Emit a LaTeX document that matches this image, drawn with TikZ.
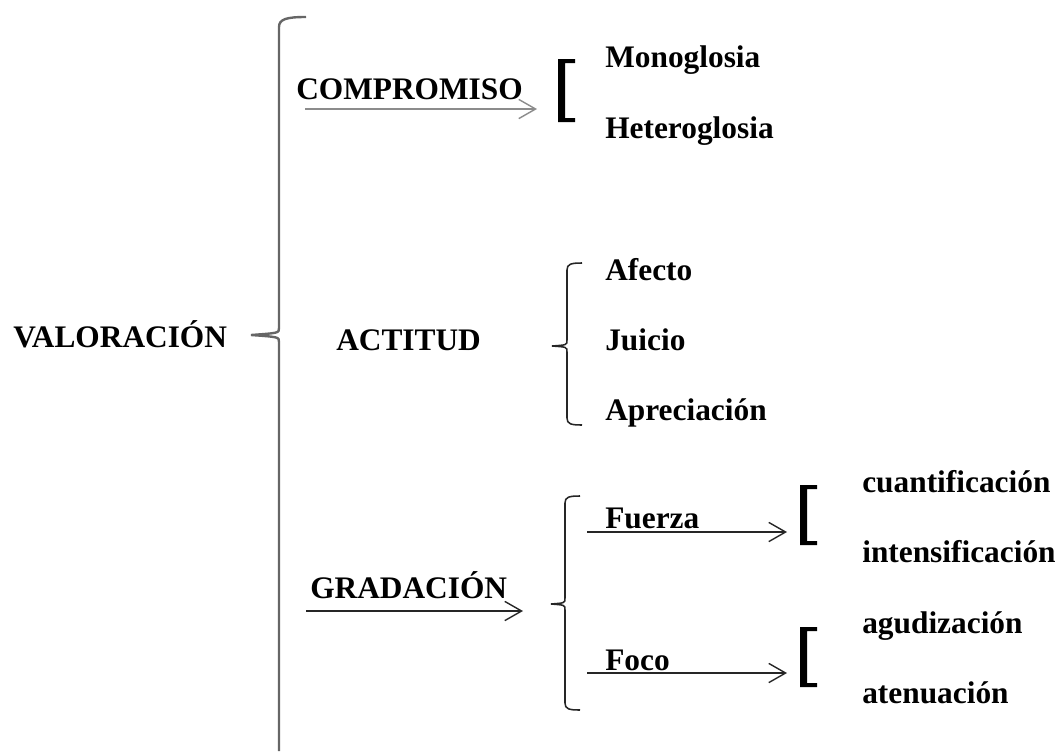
\documentclass[tikz,border=0pt]{standalone}
\usepackage{fontspec}
\setmainfont{LiberationSerif}[Extension=.ttf, UprightFont=*-Regular, BoldFont=*-Bold, ItalicFont=*-Italic, BoldItalicFont=*-BoldItalic]
\usepackage{tikz}
\usetikzlibrary{arrows.meta}
\tikzset{lbl/.style={inner sep=0pt, anchor=base west, font=\bfseries\fontsize{22.3}{26}\selectfont}}
\tikzset{llave/.style={draw=black!85, line width=1.1pt}}
\tikzset{llavemayor/.style={draw=black!60, line width=1.7pt}}
\tikzset{flecha/.style={draw=black!85, line width=1pt, -{Straight Barb[length=4.2mm,width=4.8mm,line width=1pt]}}}
\tikzset{corchete/.style={fill=black}}

\begin{document}
\begin{tikzpicture}[x=0.025cm,y=-0.025cm]
\useasboundingbox (0,0) rectangle (1059,751);
% textos
\node[lbl] (val) at (13,347) {VALORACIÓN};
\node[lbl] (comp) at (296,99) {COMPROMISO};
\node[lbl] (act) at (336,350) {ACTITUD};
\node[lbl] (grad) at (310,598) {GRADACIÓN};
\node[lbl] (mono) at (605,67) {Monoglosia};
\node[lbl] (hete) at (605,138) {Heteroglosia};
\node[lbl] (afe) at (605,280) {Afecto};
\node[lbl] (jui) at (605,350) {Juicio};
\node[lbl] (apr) at (605,420) {Apreciación};
\node[lbl] (fue) at (605,528) {Fuerza};
\node[lbl] (foc) at (605,670) {Foco};
\node[lbl] (cua) at (862,492) {cuantificación};
\node[lbl] (int) at (862,562) {intensificación};
\node[lbl] (agu) at (862,633) {agudización};
\node[lbl] (ate) at (862,703) {atenuación};
% llaves
\draw[llavemayor] (306,17) .. controls (287,17) and (279,19) .. (279,27) -- (279,328)
  .. controls (279,333) .. (251,335) .. controls (279,337) .. (279,342) -- (279,751);
\draw[llave] (582,263) .. controls (571,263) and (567,264) .. (567,270) -- (567,340)
  .. controls (567,345) .. (552,346) .. controls (567,347) .. (567,352) -- (567,418)
  .. controls (567,424) and (571,425) .. (582,425);
\draw[llave] (580,496) .. controls (569,496) and (565,497) .. (565,503) -- (565,598)
  .. controls (565,603) .. (551,604) .. controls (565,605) .. (565,610) -- (565,703)
  .. controls (565,709) and (569,710) .. (580,710);
% corchetes
\fill[corchete] (558,59) rectangle (565,122) (558,59) rectangle (575,63) (558,118) rectangle (575,122);
\fill[corchete] (800,485) rectangle (807,545) (800,485) rectangle (817,489) (800,541) rectangle (817,545);
\fill[corchete] (800,627) rectangle (807,687) (800,627) rectangle (817,631) (800,683) rectangle (817,687);
% flechas
\coordinate (c0) at (305,109);
\coordinate (c1) at (537,109);
\coordinate (g0) at (306,611);
\coordinate (g1) at (523,611);
\coordinate (f0) at (587,532);
\coordinate (f1) at (787,532);
\coordinate (o0) at (587,673);
\coordinate (o1) at (787,673);
\draw[flecha,draw=black!45] (c0) -- (c1);
\draw[flecha] (g0) -- (g1);
\draw[flecha] (f0) -- (f1);
\draw[flecha] (o0) -- (o1);
\end{tikzpicture}
\end{document}
